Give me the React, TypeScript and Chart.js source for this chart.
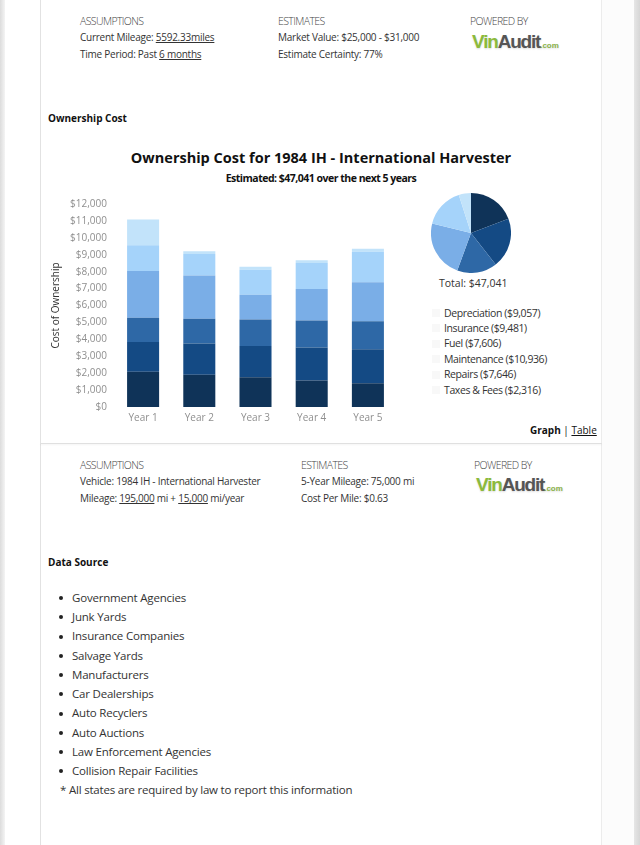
import React, { useEffect, useRef } from "react";
import { Chart, registerables } from "chart.js";

Chart.register(...registerables);

// ---- data ----
const years = ["Year 1", "Year 2", "Year 3", "Year 4", "Year 5"];
const seriesNames = ["Depreciation", "Insurance", "Fuel", "Maintenance", "Repairs", "Taxes & Fees"];
const depreciation = [2090, 1910, 1760, 1560, 1400];
const insurance = [1750, 1840, 1850, 1950, 2010];
const fuel = [1430, 1460, 1560, 1600, 1660];
const maintenance = [2770, 2560, 1460, 1860, 2310];
const repairs = [1520, 1280, 1490, 1540, 1800];
const taxesFees = [1520, 160, 170, 170, 180];
const fiveYearTotals = [9057, 9481, 7606, 10936, 7646, 2316];
const grandTotal = 47041;
const yMax = 12000;
const yStep = 1000;
const dataSources = [
  "Government Agencies",
  "Junk Yards",
  "Insurance Companies",
  "Salvage Yards",
  "Manufacturers",
  "Car Dealerships",
  "Auto Recyclers",
  "Auto Auctions",
  "Law Enforcement Agencies",
  "Collision Repair Facilities",
];

const colors = ["#0f3358", "#144a84", "#2e68a6", "#7aaee7", "#a5d3fa", "#c2e3fa"];
const FONT = "'Open Sans', 'Noto Sans', sans-serif";
const money = (v: number) => "$" + Number(v).toLocaleString("en-US");

const T = ({ x, y, s = 10, children, style = {} }: any) => (
  <div
    style={{
      position: "absolute",
      left: x,
      top: y - s * 0.7,
      fontSize: s,
      lineHeight: `${s * 1.4}px`,
      whiteSpace: "nowrap",
      ...style,
    }}
  >
    {children}
  </div>
);

const Logo = ({ x, y }: any) => (
  <div
    style={{
      position: "absolute",
      left: x,
      top: y - 11,
      height: 22,
      lineHeight: "22px",
      fontFamily: "'Liberation Sans', Arial, sans-serif",
      fontWeight: 700,
      fontSize: 19,
      letterSpacing: -1.2,
      whiteSpace: "nowrap",
      textShadow: "0 1px 2px rgba(0,0,0,0.15)",
    }}
  >
    <span style={{ color: "#8cba3c" }}>Vin</span>
    <span style={{ color: "#555" }}>Audit</span>
    <span style={{ color: "#8ab24a", fontSize: 8, letterSpacing: 0 }}>.com</span>
  </div>
);

export default function App() {
  const barRef = useRef<HTMLCanvasElement>(null);
  const pieRef = useRef<HTMLCanvasElement>(null);

  useEffect(() => {
    document.body.style.margin = "0";
    Chart.defaults.font.family = FONT;
    const series = [depreciation, insurance, fuel, maintenance, repairs, taxesFees];
    const bar = new Chart(barRef.current!, {
      type: "bar",
      data: {
        labels: years,
        datasets: series.map((d, i) => ({
          label: seriesNames[i],
          data: d,
          backgroundColor: colors[i],
          borderWidth: 0,
          barPercentage: 0.57,
          categoryPercentage: 1,
        })),
      },
      options: {
        animation: false,
        responsive: false,
        layout: { padding: { top: 12, right: 14, left: 0, bottom: 0 } },
        plugins: { legend: { display: false }, tooltip: { enabled: false } },
        scales: {
          x: {
            stacked: true,
            grid: { display: false, drawTicks: false },
            border: { display: false },
            ticks: { color: "#8f8f8f", font: { size: 10 }, padding: 5 },
            afterFit: (s: any) => {
              s.height = 23;
            },
          },
          y: {
            stacked: true,
            min: 0,
            max: yMax,
            grid: { display: false, drawTicks: false },
            border: { display: false },
            ticks: {
              stepSize: yStep,
              color: "#8f8f8f",
              font: { size: 10 },
              padding: 8,
              callback: (v: any) => money(v),
            },
            title: {
              display: true,
              text: "Cost of Ownership",
              color: "#333",
              font: { size: 10 },
              padding: { top: 10, bottom: 0 },
            },
            afterFit: (s: any) => {
              s.width = 75;
            },
          },
        },
      },
    });
    const pie = new Chart(pieRef.current!, {
      type: "pie",
      data: {
        labels: seriesNames,
        datasets: [{ data: fiveYearTotals, backgroundColor: colors, borderWidth: 0 }],
      },
      options: {
        animation: false,
        responsive: false,
        layout: { padding: 0 },
        plugins: { legend: { display: false }, tooltip: { enabled: false } },
      },
    });
    return () => {
      bar.destroy();
      pie.destroy();
    };
  }, []);

  const txt = "#333";
  const head = { color: "#444", letterSpacing: -0.6, fontWeight: 300 };
  const small = { color: txt, letterSpacing: -0.25 };

  return (
    <div
      style={{
        position: "absolute",
        left: 0,
        top: 0,
        width: 640,
        height: 845,
        overflow: "hidden",
        background: "#fff",
        fontFamily: FONT,
        color: txt,
      }}
    >
      {/* page edges / card borders */}
      <div style={{ position: "absolute", left: 0, top: 0, width: 5, height: 845, background: "linear-gradient(to right,#dcdcdc,#f4f4f4)" }} />
      <div style={{ position: "absolute", left: 634, top: 0, width: 6, height: 845, background: "linear-gradient(to right,#e6e6e6,#d6d6d6)" }} />
      <div style={{ position: "absolute", left: 602, top: 0, width: 32, height: 845, background: "#fcfcfc" }} />
      <div style={{ position: "absolute", left: 40, top: 0, width: 1, height: 845, background: "#e2e2e2" }} />
      <div style={{ position: "absolute", left: 601, top: 0, width: 1, height: 845, background: "#ececec" }} />
      <div style={{ position: "absolute", left: 40, top: 443, width: 562, height: 1, background: "#e0e0e0", boxShadow: "0 1px 2px rgba(0,0,0,0.06)" }} />

      {/* top info */}
      <T x={80} y={21} s={10.5} style={head}>ASSUMPTIONS</T>
      <T x={80} y={37} s={10} style={small}>
        Current Mileage: <span style={{ textDecoration: "underline" }}>5592.33miles</span>
      </T>
      <T x={80} y={54} s={10} style={small}>
        Time Period: Past <span style={{ textDecoration: "underline" }}>6 months</span>
      </T>
      <T x={278} y={21} s={10.5} style={head}>ESTIMATES</T>
      <T x={278} y={37} s={10} style={small}>Market Value: $25,000 - $31,000</T>
      <T x={278} y={54} s={10} style={small}>Estimate Certainty: 77%</T>
      <T x={470} y={21} s={10.5} style={head}>POWERED BY</T>
      <Logo x={472} y={42} />

      <T x={48} y={118} s={10} style={{ fontWeight: 700, color: "#111" }}>Ownership Cost</T>

      {/* chart titles */}
      <div style={{ position: "absolute", left: 121, width: 400, top: 148, textAlign: "center", fontSize: 14.5, fontWeight: 700, color: "#111", lineHeight: "20px" }}>
        Ownership Cost for 1984 IH - International Harvester
      </div>
      <div style={{ position: "absolute", left: 121, width: 400, top: 170, textAlign: "center", fontSize: 10.5, fontWeight: 700, color: "#111", lineHeight: "16px", letterSpacing: -0.5 }}>
        Estimated: {money(grandTotal)} over the next 5 years
      </div>

      {/* bar chart */}
      <div style={{ position: "absolute", left: 40, top: 190, width: 370, height: 240 }}>
        <canvas ref={barRef} width={370} height={240} style={{ width: 370, height: 240 }} />
      </div>

      {/* pie chart */}
      <div style={{ position: "absolute", left: 431, top: 193, width: 80, height: 80 }}>
        <canvas ref={pieRef} width={80} height={80} style={{ width: 80, height: 80 }} />
      </div>
      <T x={439} y={283} s={10.5} style={{ color: txt }}>Total: {money(grandTotal)}</T>
      {seriesNames.map((n, i) => (
        <React.Fragment key={n}>
          <div style={{ position: "absolute", left: 432, top: 309 + i * 15.4, width: 8, height: 8, background: "#f8f8f8" }} />
          <T x={444} y={313 + i * 15.4} s={10.5} style={{ color: txt, letterSpacing: -0.4 }}>
            {n} ({money(fiveYearTotals[i])})
          </T>
        </React.Fragment>
      ))}

      <T x={530} y={430} s={10} style={{ color: "#111" }}>
        <b>Graph</b> | <span style={{ textDecoration: "underline" }}>Table</span>
      </T>

      {/* lower info */}
      <T x={80} y={465} s={10.5} style={head}>ASSUMPTIONS</T>
      <T x={80} y={481} s={10} style={small}>Vehicle: 1984 IH - International Harvester</T>
      <T x={80} y={498} s={10} style={small}>
        Mileage: <span style={{ textDecoration: "underline" }}>195,000</span> mi +{" "}
        <span style={{ textDecoration: "underline" }}>15,000</span> mi/year
      </T>
      <T x={301} y={465} s={10.5} style={head}>ESTIMATES</T>
      <T x={301} y={481} s={10} style={small}>5-Year Mileage: 75,000 mi</T>
      <T x={301} y={498} s={10} style={small}>Cost Per Mile: $0.63</T>
      <T x={474} y={465} s={10.5} style={head}>POWERED BY</T>
      <Logo x={476} y={485} />

      <T x={48} y={562} s={10} style={{ fontWeight: 700, color: "#111" }}>Data Source</T>
      {dataSources.map((d, i) => (
        <React.Fragment key={d}>
          <div style={{ position: "absolute", left: 59, top: 596 + i * 19.25, width: 4, height: 4, borderRadius: 2, background: "#222" }} />
          <T x={72} y={598 + i * 19.25} s={11.5} style={{ color: "#333", letterSpacing: -0.2 }}>{d}</T>
        </React.Fragment>
      ))}
      <T x={60} y={790} s={11.5} style={{ color: "#333", letterSpacing: -0.2 }}>
        * All states are required by law to report this information
      </T>
    </div>
  );
}
